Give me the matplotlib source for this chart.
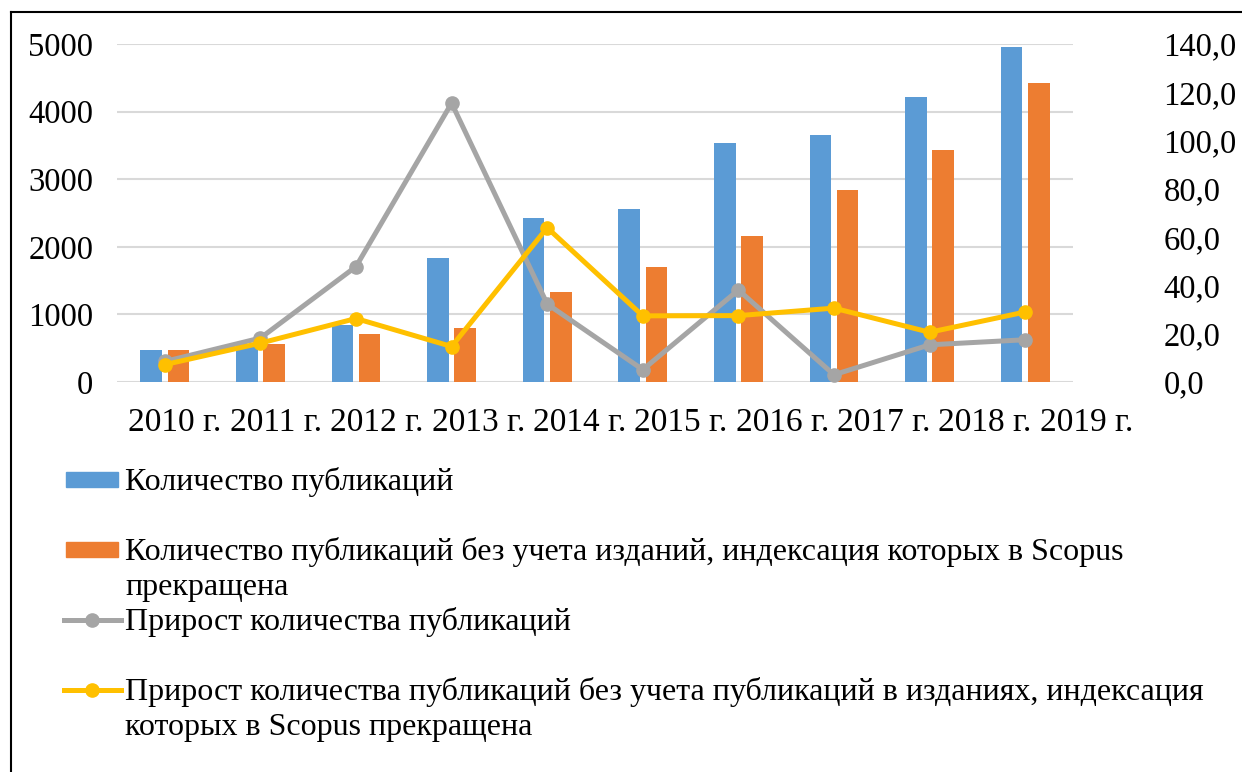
import matplotlib
matplotlib.use("Agg")
import matplotlib.pyplot as plt
from matplotlib.lines import Line2D
from matplotlib.patches import Rectangle
import numpy as np

plt.rcParams['font.family'] = ['Liberation Serif', 'DejaVu Serif']

years = ["2010 г.", "2011 г.", "2012 г.", "2013 г.", "2014 г.",
         "2015 г.", "2016 г.", "2017 г.", "2018 г.", "2019 г."]
publications = [480, 568, 850, 1834, 2429, 2557, 3535, 3648, 4213, 4961]
publications_excl = [478, 556, 703, 806, 1327, 1696, 2163, 2837, 3427, 4425]
growth = [8.5, 18.2, 47.8, 115.5, 32.3, 5.1, 38.1, 3.0, 15.4, 17.5]
growth_excl = [7.2, 16.1, 26.3, 14.7, 63.9, 27.4, 27.5, 30.6, 20.6, 29.0]

left_ticks = [0, 1000, 2000, 3000, 4000, 5000]
right_ticks = [0, 20, 40, 60, 80, 100, 120, 140]

labels = [["Количество публикаций"],
          ["Количество публикаций без учета изданий, индексация которых в Scopus",
           "прекращена"],
          ["Прирост количества публикаций"],
          ["Прирост количества публикаций без учета публикаций в изданиях, индексация",
           "которых в Scopus прекращена"]]

BLUE = "#5b9bd5"
ORANGE = "#ed7d31"
GRAY = "#a5a5a5"
YELLOW = "#ffc000"

W, H = 1242, 772
fig = plt.figure(figsize=(W / 100, H / 100), dpi=100)
ax = fig.add_axes([117 / W, (H - 382) / H, (1073 - 117) / W, (382 - 44) / H])
ax2 = ax.twinx()

x = np.arange(len(years))
bw = 0.226
off = 0.142
ax.bar(x - off, publications, width=bw, color=BLUE, zorder=2)
ax.bar(x + off, publications_excl, width=bw, color=ORANGE, zorder=2)

ax.set_yticks(left_ticks)
ax.set_yticklabels([str(v) for v in left_ticks])
ax.set_xticks(x)
ax.set_xticklabels([])
ax.set_xlim(-0.5, len(years) - 0.5)
ax.set_ylim(0, 5000)
# category labels are spread slightly wider than the bars in the original
label_x = 0.10 + 1.06 * x
for lx, yr in zip(label_x, years):
    ax.text(lx, -0.121, yr, transform=ax.get_xaxis_transform(), ha='center',
            va='center', fontsize=24, clip_on=False)
ax.grid(axis='y', color="#d9d9d9", linewidth=1.5, zorder=0)
ax.set_axisbelow(True)
for s in ax.spines.values():
    s.set_visible(False)
for s in ax2.spines.values():
    s.set_visible(False)
ax.tick_params(axis='y', length=0, labelsize=23.5, pad=17)
ax.tick_params(axis='x', length=0)

ax2.plot(x, growth, color=GRAY, lw=3.6, marker='o', ms=9.5, zorder=3)
ax2.plot(x, growth_excl, color=YELLOW, lw=3.6, marker='o', ms=9.5, zorder=4)
ax2.set_ylim(0, 140)
ax2.set_yticks(right_ticks)
ax2.set_yticklabels([f"{v:.1f}".replace('.', ',') for v in right_ticks])
ax2.tick_params(axis='y', length=0, labelsize=23.5, pad=65)
ax2.set_xlim(-0.5, len(years) - 0.5)

# legend (manual layout, Excel style)
def px(xp, yp):
    return xp / W, 1 - yp / H

rows = [480, 550, 620, 690]
for i, (lines, yy) in enumerate(zip(labels, rows)):
    if i < 2:
        col = BLUE if i == 0 else ORANGE
        x0, y0 = px(66, yy + 7)
        fig.add_artist(Rectangle((x0, y0), 52 / W, 15 / H, transform=fig.transFigure,
                                 color=col))
    else:
        col = GRAY if i == 2 else YELLOW
        xa, ya = px(64, yy)
        xb, _ = px(121, yy)
        fig.add_artist(Line2D([xa, xb], [ya, ya], transform=fig.transFigure,
                              color=col, lw=3.6))
        xm, _ = px(92, yy)
        fig.add_artist(Line2D([xm], [ya], transform=fig.transFigure, color=col,
                              marker='o', ms=9.5))
    for j, line in enumerate(lines):
        tx, ty = px(125, yy + 10 + 35 * j)
        fig.text(tx, ty, line, fontsize=23, va='baseline', ha='left')

# outer frame (left and top edges visible)
fig.add_artist(Line2D([10.5 / W, 10.5 / W], [0, 1 - 12 / H], transform=fig.transFigure,
                      color='black', lw=1.5))
fig.add_artist(Line2D([10.5 / W, 1], [1 - 12 / H, 1 - 12 / H], transform=fig.transFigure,
                      color='black', lw=1.5))

fig.savefig("out.png", dpi=100)
